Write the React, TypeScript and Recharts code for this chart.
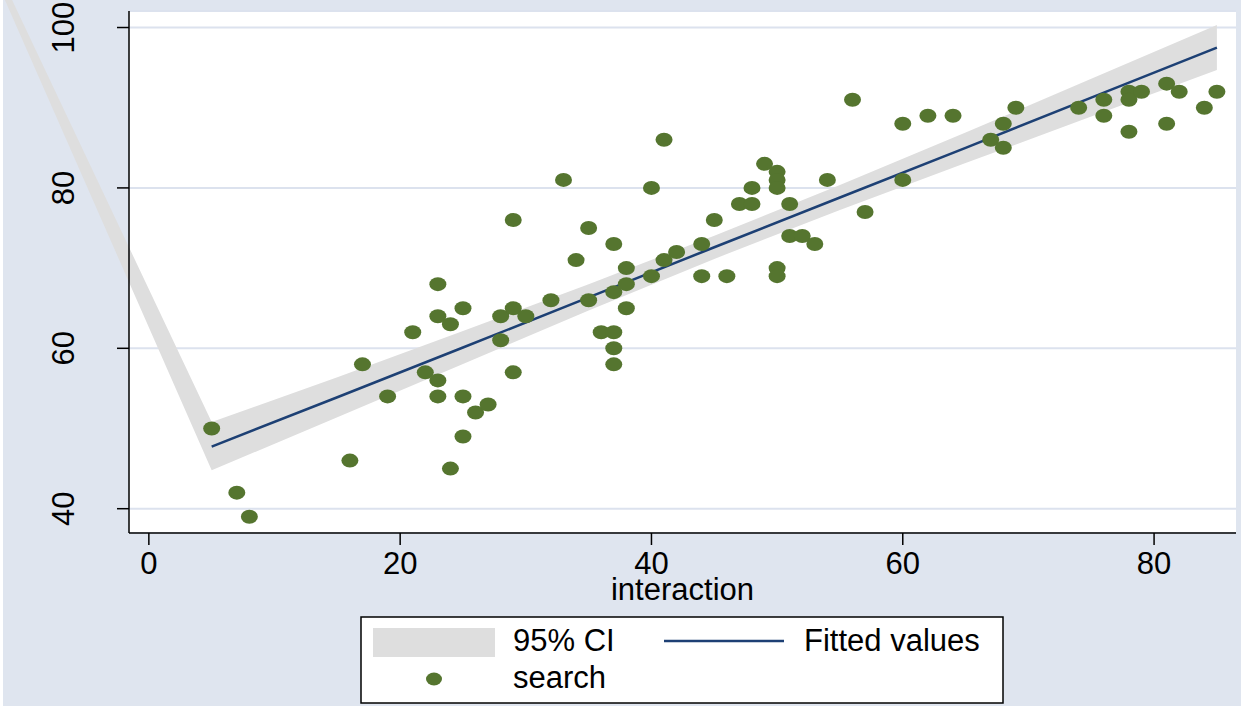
import { ComposedChart, Area, Line, Scatter, XAxis, YAxis, CartesianGrid } from 'recharts'

// scatter: interaction vs search
const searchX = [
  5, 7, 8, 16, 17, 19, 21, 22, 23, 23, 23, 23, 24, 24, 25, 25, 25, 26, 27, 28, 28,
  29, 29, 29, 30, 32, 33, 34, 35, 35, 36, 37, 37, 37, 37, 37, 38, 38, 38, 40, 40,
  41, 41, 42, 44, 44, 45, 46, 47, 48, 48, 49, 50, 50, 50, 50, 50, 51, 51, 52, 53,
  54, 56, 57, 60, 60, 62, 64, 67, 68, 68, 69, 74, 76, 76, 78, 78, 78, 79, 81, 81,
  82, 84, 85,
]
const searchY = [
  50, 42, 39, 46, 58, 54, 62, 57, 68, 64, 56, 54, 63, 45, 65, 54, 49, 52, 53, 64, 61,
  76, 65, 57, 64, 66, 81, 71, 75, 66, 62, 73, 67, 62, 60, 58, 70, 68, 65, 80, 69,
  86, 71, 72, 73, 69, 76, 69, 78, 80, 78, 83, 82, 81, 80, 70, 69, 78, 74, 74, 73,
  81, 91, 77, 88, 81, 89, 89, 86, 88, 85, 90, 90, 91, 89, 92, 91, 87, 92, 93, 88,
  92, 90, 92,
]

// fitted line and 95% CI
const fitX = [5, 15, 25, 35, 45, 55, 65, 75, 85]
const fitY = [47.75, 53.9, 60.1, 66.35, 72.6, 78.8, 85.0, 91.25, 97.5]
const ciLow = [44.8, 51.4, 58.05, 64.7, 71.15, 77.25, 83.1, 88.9, 94.7]
const ciHigh = [50.8, 56.4, 62.15, 68.0, 74.05, 80.35, 86.9, 93.6, 100.3]

// stray leg of the CI area running off to the upper left
const strayX = -11.84
const strayLow = 104.8
const strayHigh = 106.6

const xTicks = [0, 20, 40, 60, 80]
const yTicks = [40, 60, 80, 100]

const BG = '#dfe5ef'
const GREEN = '#55752f'
const NAVY = '#1d4074'
const BAND = '#dedede'
const FONT = '"Liberation Sans", Arial, sans-serif'
const FS = 31

const scatterData = searchX.map((x, i) => ({ x, y: searchY[i] }))
const fitData = fitX.map((x, i) => ({ x, fit: fitY[i] }))
const bandData = [
  { x: strayX, range: [strayLow, strayHigh] },
  ...fitX.map((x, i) => ({ x, range: [ciLow[i], ciHigh[i]] })),
]

function XTick({ x, y, payload }: any) {
  return (
    <text x={x} y={y} dy={29} textAnchor="middle" fontSize={FS} fontFamily={FONT} fill="#000">
      {payload.value}
    </text>
  )
}

function YTick({ x, y, payload }: any) {
  return (
    <text
      transform={`translate(${x - 43}, ${y}) rotate(-90)`}
      textAnchor="middle"
      fontSize={FS}
      fontFamily={FONT}
      fill="#000"
    >
      {payload.value}
    </text>
  )
}

function XLabel({ viewBox }: any) {
  const { x, y, width } = viewBox
  return (
    <text x={x + width / 2} y={y + 67} textAnchor="middle" fontSize={FS} fontFamily={FONT} fill="#000">
      interaction
    </text>
  )
}

function Dot({ cx, cy }: any) {
  return <ellipse cx={cx} cy={cy} rx={8.5} ry={7} fill={GREEN} />
}

function LegendBox() {
  return (
    <svg width={1241} height={706} style={{ position: 'absolute', left: 0, top: 0, pointerEvents: 'none' }}>
      <rect x={361} y={617} width={642} height={86} fill="#fff" stroke="#000" strokeWidth={1.5} />
      <rect x={373} y={628} width={122} height={29} fill={BAND} />
      <text x={513} y={651} fontSize={FS} fontFamily={FONT}>95% CI</text>
      <line x1={664} x2={784} y1={641} y2={641} stroke={NAVY} strokeWidth={2.5} />
      <text x={804} y={651} fontSize={FS} fontFamily={FONT}>Fitted values</text>
      <ellipse cx={434} cy={679} rx={8} ry={6.5} fill={GREEN} />
      <text x={513} y={688} fontSize={FS} fontFamily={FONT}>search</text>
    </svg>
  )
}

export default function App() {
  return (
    <div style={{ position: 'relative', width: 1241, height: 706, background: BG, overflow: 'hidden' }}>
      <style>{`body{margin:0} .ci-band g, .ci-band path { clip-path: none !important; }`}</style>
      <div style={{ position: 'absolute', left: 0, top: 0, width: 3, height: 706, background: '#fff' }} />
      <ComposedChart width={1241} height={706} margin={{ top: 11, right: 5, left: 69, bottom: 113 }}>
        <CartesianGrid vertical={false} fill="#fff" fillOpacity={1} stroke="#dce2ee" strokeWidth={2} />
        <XAxis
          type="number"
          dataKey="x"
          domain={[-1.58, 86.52]}
          allowDataOverflow
          ticks={xTicks}
          height={60}
          tickSize={12}
          tickMargin={0}
          stroke="#000"
          strokeWidth={1.5}
          tick={<XTick />}
          label={<XLabel />}
        />
        <YAxis
          type="number"
          domain={[36.97, 102.06]}
          allowDataOverflow
          ticks={yTicks}
          width={60}
          tickSize={12}
          tickMargin={0}
          stroke="#000"
          strokeWidth={1.5}
          tick={<YTick />}
        />
        <Area
          className="ci-band"
          data={bandData}
          dataKey="range"
          type="linear"
          stroke="none"
          fill={BAND}
          fillOpacity={1}
          isAnimationActive={false}
        />
        <Line
          data={fitData}
          dataKey="fit"
          type="linear"
          stroke={NAVY}
          strokeWidth={2.5}
          dot={false}
          activeDot={false}
          isAnimationActive={false}
        />
        <Scatter data={scatterData} dataKey="y" shape={<Dot />} isAnimationActive={false} />
      </ComposedChart>
      <LegendBox />
    </div>
  )
}
